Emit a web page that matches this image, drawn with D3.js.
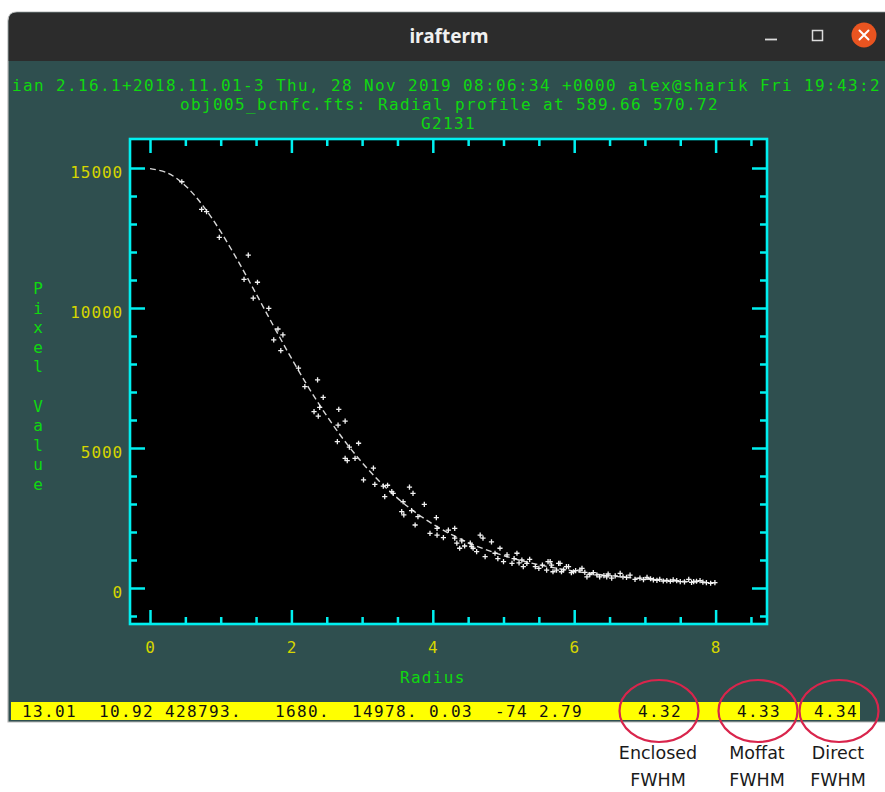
<!DOCTYPE html>
<html>
<head>
<meta charset="utf-8">
<script src="https://cdn.jsdelivr.net/npm/d3@7"></script>
<style>
  html, body { margin: 0; padding: 0; background: #ffffff; }
  svg { display: block; }
</style>
</head>
<body>
<svg id="chart" width="885" height="792"></svg>
<script>
// ---- radial profile samples (radius in pixels, pixel value above sky) ----
const profileRadius = [
  0.45, 0.73, 0.80, 0.98, 1.39, 1.33, 1.52, 1.46, 1.68, 1.81, 1.88, 1.75, 1.85,
  2.10, 2.19, 2.37, 2.45, 2.40, 2.32, 2.38, 2.67, 2.76, 2.66, 2.65, 2.95, 2.82,
  2.76, 2.90, 2.79, 3.16, 3.02, 3.18, 3.30, 3.36, 3.32, 3.42, 3.44, 3.67, 3.72,
  3.58, 3.56, 3.59, 3.70, 3.79, 3.75, 3.88, 4.05, 4.06, 3.96, 4.06, 4.15, 4.22,
  4.31, 4.31, 4.34, 4.41, 4.38, 4.45, 4.53, 4.55, 4.62, 4.67, 4.71, 4.57, 4.83,
  4.74, 4.88, 4.92, 4.95, 5.00, 5.05, 5.15, 5.19, 5.12, 5.22, 5.26, 5.33, 5.28,
  5.37, 5.45, 5.50, 5.55, 5.63, 5.68, 5.78, 5.61, 5.66, 5.70, 5.75, 5.80, 5.82,
  5.85, 5.89, 5.92, 5.96, 5.99, 6.02, 6.08, 6.11, 6.15, 6.18, 6.22, 6.27, 6.32,
  6.36, 6.42, 6.46, 6.48, 6.53, 6.58, 6.65, 6.69, 6.74, 6.79, 6.86, 6.93, 6.98,
  7.03, 7.08, 7.12, 7.17, 7.21, 7.26, 7.31, 7.36, 7.40, 7.45, 7.50, 7.56, 7.62,
  7.66, 7.69, 7.73, 7.78, 7.82, 7.87, 7.93, 7.99
];
const profileValue = [
  14510, 13520, 13440, 12520, 11890, 11020, 10920, 10350, 9990, 9250, 9040, 8860, 8480,
  7850, 7190, 7430, 6810, 6450, 6300, 6140, 6380, 5960, 5820, 5230, 5170, 5030,
  4630, 4630, 4550, 4280, 3860, 3700, 3640, 3670, 3260, 3440, 3380, 3600, 3380,
  3080, 2730, 2610, 2760, 2550, 2250, 2990, 2510, 2130, 1950, 1890, 1800, 2070,
  2130, 1780, 1600, 1680, 1420, 1500, 1600, 1480, 1300, 1890, 1780, 1420, 1650,
  1120, 1240, 1050, 1420, 940, 1180, 1050, 1240, 880, 900, 1000, 880, 760,
  1020, 760, 700, 820, 940, 820, 880, 640, 940, 580, 640, 880, 580,
  650, 760, 760, 550, 580, 620, 640, 700, 560, 400, 480, 550, 470,
  400, 440, 400, 500, 350, 430, 520, 400, 380, 460, 310, 350, 300,
  380, 330, 290, 270, 310, 250, 260, 240, 290, 260, 230, 220, 310,
  200, 230, 240, 260, 210, 190, 170, 190
];

// ---- Moffat fit (peak 14978, beta 2.79, FWHM 4.33), sampled every 0.25 px ----
const fitRadius = [
  0, 0.25, 0.5, 0.75, 1, 1.25, 1.5, 1.75, 2, 2.25, 2.5, 2.75, 3, 3.25, 3.5, 3.75,
  4, 4.25, 4.5, 4.75, 5, 5.25, 5.5, 5.75, 6, 6.25, 6.5, 6.75, 7, 7.25, 7.5, 7.75, 8
];
const fitValue = [
  14978, 14822, 14367, 13650, 12725, 11657, 10510, 9344, 8207, 7133, 6147, 5261,
  4479, 3797, 3210, 2708, 2283, 1924, 1622, 1369, 1157, 979, 830, 706, 601, 513,
  440, 377, 325, 280, 242, 210, 183
];

// ---- axes ----
const xMajorTicks = [0, 2, 4, 6, 8];
const xMinorTicks = [0.5, 1, 1.5, 2.5, 3, 3.5, 4.5, 5, 5.5, 6.5, 7, 7.5, 8.5];
const yMajorTicks = [0, 5000, 10000, 15000];
const yMinorTicks = [-1000, 1000, 2000, 3000, 4000, 6000, 7000, 8000, 9000,
                     11000, 12000, 13000, 14000];
const xAxisTitle = "Radius";
const yAxisTitle = "Pixel Value";

// ---- terminal text ----
const windowTitle = "irafterm";
const headerLines = [
  "ian 2.16.1+2018.11.01-3 Thu, 28 Nov 2019 08:06:34 +0000 alex@sharik Fri 19:43:2",
  "obj005_bcnfc.fts: Radial profile at 589.66 570.72",
  "G2131"
];
// status line fields and their character columns
const statusText = ["13.01", "10.92", "428793.", "1680.", "14978.", "0.03", "-74", "2.79", "4.32", "4.33", "4.34"];
const statusCol  = [0, 7, 13, 23, 30, 37, 43, 47, 56, 65, 72];
const noteField  = [8, 9, 10];
const noteLine1  = ["Enclosed", "Moffat", "Direct"];
const noteLine2  = ["FWHM", "FWHM", "FWHM"];

// ---- drawing ----
const svg = d3.select("#chart");
const W = 885;
const cell = 11;           // terminal character cell width
const mono = "'DejaVu Sans Mono', 'Liberation Mono', monospace";
const green = "#10d810";
const yellow = "#d6d600";
const cyan = "#00f0f0";

svg.append("rect").attr("width", W).attr("height", 792).attr("fill", "#ffffff");

// window body and title bar
const win = { x: 8, y: 12, r: 9, right: W + 20, bottom: 722, barH: 49 };
svg.append("path")
  .attr("d", `M${win.x},${win.bottom} V${win.y + win.r} Q${win.x},${win.y} ${win.x + win.r},${win.y} H${win.right} V${win.bottom} Z`)
  .attr("fill", "#2f4f4f")
  .attr("stroke", "#b8b8b8")
  .attr("stroke-width", 1.2);
svg.append("path")
  .attr("d", `M${win.x + 0.6},${win.y + win.barH} V${win.y + win.r} Q${win.x + 0.6},${win.y + 0.6} ${win.x + win.r},${win.y + 0.6} H${win.right} V${win.y + win.barH} Z`)
  .attr("fill", "#2c2c2c");

svg.append("text")
  .attr("x", 449).attr("y", 43)
  .attr("text-anchor", "middle")
  .attr("font-family", "'Noto Sans', 'DejaVu Sans', sans-serif")
  .attr("font-weight", "bold")
  .attr("font-size", 19)
  .attr("fill", "#f0f0f0")
  .text(windowTitle);

// window controls
svg.append("line").attr("x1", 765).attr("x2", 777).attr("y1", 39.5).attr("y2", 39.5)
  .attr("stroke", "#dcdcdc").attr("stroke-width", 1.8);
svg.append("rect").attr("x", 812.5).attr("y", 30.5).attr("width", 10).attr("height", 10)
  .attr("fill", "none").attr("stroke", "#dcdcdc").attr("stroke-width", 1.5);
svg.append("circle").attr("cx", 864).attr("cy", 35).attr("r", 12.5).attr("fill", "#e95420");
svg.append("path").attr("d", "M859.5,30.5 L868.5,39.5 M868.5,30.5 L859.5,39.5")
  .attr("stroke", "#ffffff").attr("stroke-width", 2).attr("stroke-linecap", "round");

// header text
const headerStart = [12, 180, 421];
headerLines.forEach((line, i) => {
  svg.append("text")
    .attr("x", headerStart[i]).attr("y", 91 + i * 19)
    .attr("font-family", mono).attr("font-size", 16)
    .attr("letter-spacing", cell - 16 * 0.602)
    .attr("fill", green)
    .attr("xml:space", "preserve")
    .text(line);
});

// plot frame and scales
const frame = { left: 130, right: 767, top: 139, bottom: 624 };
const x = d3.scaleLinear().domain([-0.283, 8.727]).range([frame.left, frame.right]);
const y = d3.scaleLinear().domain([-1286, 16036]).range([frame.bottom, frame.top]);

svg.append("rect")
  .attr("x", frame.left).attr("y", frame.top)
  .attr("width", frame.right - frame.left).attr("height", frame.bottom - frame.top)
  .attr("fill", "#000000");

function styleAxis(g) {
  g.select(".domain").remove();
  g.selectAll(".tick line").attr("stroke", cyan).attr("stroke-width", 2.5);
  g.selectAll(".tick text")
    .attr("fill", yellow)
    .attr("font-family", mono)
    .attr("font-size", 16)
    .attr("letter-spacing", 0.9);
}

// bottom axis (labelled) and minor ticks
svg.append("g").attr("transform", `translate(0,${frame.bottom})`)
  .call(d3.axisBottom(x).tickValues(xMajorTicks).tickSize(-14).tickPadding(18).tickFormat(d3.format("d")))
  .call(styleAxis);
svg.append("g").attr("transform", `translate(0,${frame.bottom})`)
  .call(d3.axisBottom(x).tickValues(xMinorTicks).tickSize(-7).tickFormat(""))
  .call(styleAxis);
// top mirror
svg.append("g").attr("transform", `translate(0,${frame.top})`)
  .call(d3.axisTop(x).tickValues(xMajorTicks).tickSize(-14).tickFormat(""))
  .call(styleAxis);
svg.append("g").attr("transform", `translate(0,${frame.top})`)
  .call(d3.axisTop(x).tickValues(xMinorTicks).tickSize(-7).tickFormat(""))
  .call(styleAxis);
// left axis (labelled)
svg.append("g").attr("transform", `translate(${frame.left},0)`)
  .call(d3.axisLeft(y).tickValues(yMajorTicks).tickSize(-15).tickPadding(7).tickFormat(d3.format("d")))
  .call(styleAxis)
  .call(g => g.selectAll(".tick text").attr("dy", "0.62em"));
svg.append("g").attr("transform", `translate(${frame.left},0)`)
  .call(d3.axisLeft(y).tickValues(yMinorTicks).tickSize(-7).tickFormat(""))
  .call(styleAxis);
// right mirror
svg.append("g").attr("transform", `translate(${frame.right},0)`)
  .call(d3.axisRight(y).tickValues(yMajorTicks).tickSize(-15).tickFormat(""))
  .call(styleAxis);
svg.append("g").attr("transform", `translate(${frame.right},0)`)
  .call(d3.axisRight(y).tickValues(yMinorTicks).tickSize(-7).tickFormat(""))
  .call(styleAxis);

svg.append("rect")
  .attr("x", frame.left).attr("y", frame.top)
  .attr("width", frame.right - frame.left).attr("height", frame.bottom - frame.top)
  .attr("fill", "none").attr("stroke", cyan).attr("stroke-width", 2.6);

// axis titles
svg.append("text")
  .attr("x", (x(0) + x(8)) / 2).attr("y", 683)
  .attr("text-anchor", "middle")
  .attr("font-family", mono).attr("font-size", 16)
  .attr("letter-spacing", 1.3)
  .attr("fill", green)
  .text(xAxisTitle);
Array.from(yAxisTitle).forEach((ch, i) => {
  if (ch === " ") return;
  svg.append("text")
    .attr("x", 38).attr("y", 294 + i * 19.6)
    .attr("text-anchor", "middle")
    .attr("font-family", mono).attr("font-size", 16)
    .attr("fill", green)
    .text(ch);
});

// fitted profile (dashed)
const fit = fitRadius.map((r, i) => [r, fitValue[i]]);
svg.append("path")
  .datum(fit)
  .attr("d", d3.line().x(d => x(d[0])).y(d => y(d[1])).curve(d3.curveCatmullRom))
  .attr("fill", "none")
  .attr("stroke", "#d8d8d8")
  .attr("stroke-width", 1.4)
  .attr("stroke-dasharray", "6,3.5");

// measured pixels as small crosses
const pts = profileRadius.map((r, i) => [r, profileValue[i]]);
svg.append("g").selectAll("path")
  .data(pts)
  .join("path")
  .attr("transform", d => `translate(${x(d[0])},${y(d[1])})`)
  .attr("d", "M-2.6,0H2.6M0,-2.6V2.6")
  .attr("stroke", "#f2f2f2")
  .attr("stroke-width", 1.3);

// status line
const statusY = 717;
const statusX0 = 22;
svg.append("rect")
  .attr("x", 11).attr("y", 702).attr("width", 849).attr("height", 18)
  .attr("fill", "#ffff00");
statusText.forEach((t, i) => {
  svg.append("text")
    .attr("x", statusX0 + statusCol[i] * cell).attr("y", statusY)
    .attr("font-family", mono).attr("font-size", 16)
    .attr("letter-spacing", cell - 16 * 0.602)
    .attr("fill", "#111111")
    .text(t);
});

// FWHM call-outs
const fieldCenter = i => statusX0 + statusCol[i] * cell + statusText[i].length * cell / 2 - 1;
const noteDx = [0, 0, 4];
noteField.forEach((f, k) => {
  const cx = fieldCenter(f) + noteDx[k];
  svg.append("ellipse")
    .attr("cx", cx).attr("cy", 711).attr("rx", 39.5).attr("ry", 31)
    .attr("fill", "none").attr("stroke", "#d9254c").attr("stroke-width", 2.2);
  [noteLine1[k], noteLine2[k]].forEach((t, j) => {
    svg.append("text")
      .attr("x", cx - 1).attr("y", 759 + j * 27)
      .attr("text-anchor", "middle")
      .attr("font-family", "'DejaVu Sans', 'Noto Sans', sans-serif")
      .attr("font-size", 17.5)
      .attr("fill", "#1a1a1a")
      .text(t);
  });
});
</script>
</body>
</html>
